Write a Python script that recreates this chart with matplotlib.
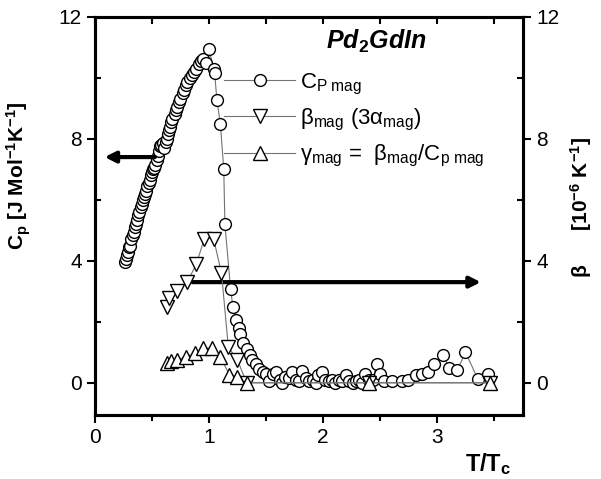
import numpy as np
import matplotlib.pyplot as plt
from matplotlib.ticker import MultipleLocator

plt.rcParams['font.family'] = ['Liberation Sans', 'DejaVu Sans']
plt.rcParams['mathtext.fontset'] = 'custom'
plt.rcParams['mathtext.rm'] = 'Liberation Sans'
plt.rcParams['mathtext.it'] = 'Liberation Sans:italic'
plt.rcParams['mathtext.bf'] = 'Liberation Sans:bold'

# C_p mag (left axis)
cp_t = [0.26, 0.27, 0.28, 0.29, 0.30, 0.31, 0.32, 0.33, 0.34, 0.35, 0.36, 0.37, 0.38, 0.39,
        0.40, 0.41, 0.42, 0.43, 0.44, 0.45, 0.46, 0.47, 0.48, 0.49, 0.50, 0.51, 0.52, 0.53,
        0.54, 0.55, 0.56, 0.57, 0.58, 0.60, 0.61, 0.62, 0.63, 0.64, 0.65, 0.66, 0.67, 0.68,
        0.70, 0.71, 0.72, 0.74, 0.75, 0.77, 0.78, 0.80, 0.81, 0.83, 0.85, 0.87, 0.89, 0.91,
        0.93, 0.95, 0.97, 1.00, 1.04, 1.05, 1.07, 1.10, 1.13, 1.14, 1.19, 1.21, 1.24, 1.26,
        1.27, 1.30, 1.33, 1.36, 1.38, 1.41, 1.44, 1.47, 1.50, 1.53, 1.56, 1.59, 1.62, 1.64,
        1.67, 1.70, 1.73, 1.76, 1.79, 1.82, 1.85, 1.88, 1.91, 1.94, 1.96, 1.99, 2.02, 2.05,
        2.08, 2.11, 2.14, 2.17, 2.20, 2.23, 2.26, 2.29, 2.32, 2.34, 2.37, 2.40, 2.44, 2.47,
        2.50, 2.54, 2.61, 2.69, 2.75, 2.82, 2.87, 2.92, 2.97, 3.05, 3.11, 3.18, 3.25, 3.36,
        3.45]
cp_val = [3.95, 4.05, 4.2, 4.3, 4.45, 4.5, 4.7, 4.85, 4.95, 5.1, 5.2, 5.35, 5.5, 5.6,
          5.75, 5.85, 6.0, 6.1, 6.2, 6.3, 6.45, 6.55, 6.65, 6.8, 6.9, 7.0, 7.05, 7.15,
          7.3, 7.45, 7.6, 7.75, 7.8, 7.85, 7.7, 7.9, 8.0, 8.15, 8.3, 8.4, 8.55, 8.65,
          8.8, 8.95, 9.05, 9.2, 9.3, 9.5, 9.6, 9.75, 9.85, 10.0, 10.1, 10.2, 10.3, 10.45,
          10.55, 10.6, 10.5, 10.95, 10.3, 10.15, 9.26, 8.5, 7.0, 5.2, 3.07, 2.5, 2.05, 1.8,
          1.6, 1.3, 1.1, 0.9, 0.75, 0.6, 0.45, 0.35, 0.3, 0.05, 0.3, 0.35, 0.1, 0.0,
          0.2, 0.15, 0.35, 0.1, 0.05, 0.4, 0.15, 0.05, 0.1, 0.0, 0.25, 0.35, 0.1, 0.05,
          0.1, 0.0, 0.1, 0.05, 0.25, 0.05, 0.0, 0.05, 0.1, 0.0, 0.3, 0.1, 0.1, 0.6,
          0.3, 0.05, 0.05, 0.05, 0.1, 0.25, 0.3, 0.35, 0.6, 0.9, 0.5, 0.42, 1.0, 0.12,
          0.28]

# beta mag (right axis, 1e-6 K^-1)
beta_t = [0.63, 0.65, 0.72, 0.81, 0.89, 0.96, 1.04, 1.11, 1.17, 1.25, 1.33, 2.40, 3.47]
beta_val = [2.5, 2.78, 3.0, 3.3, 3.9, 4.73, 4.73, 3.6, 1.17, 0.75, 0.0, 0.0, 0.0]

# gamma mag
gamma_t = [0.63, 0.67, 0.72, 0.80, 0.88, 0.95, 1.03, 1.10, 1.18, 1.25, 1.33, 2.40, 3.47]
gamma_val = [0.65, 0.7, 0.75, 0.85, 0.98, 1.14, 1.14, 0.85, 0.26, 0.2, 0.0, 0.0, 0.0]

fig = plt.figure(figsize=(6.01, 4.79), dpi=100)
ax = fig.add_axes([0.158, 0.134, 0.712, 0.831])
ax2 = ax.twinx()

mk = dict(mfc='white', mec='black', mew=1.0, color='0.45', lw=0.8)
l1, = ax.plot(cp_t, cp_val, 'o', ls='-', ms=8.5, label=r'C$_{\mathrm{P\ mag}}$', **mk)
l2, = ax2.plot(beta_t, beta_val, 'v', ls='-', ms=9.5,
               label=r'β$_{\mathrm{mag}}$ (3α$_{\mathrm{mag}}$)', **mk)
l3, = ax2.plot(gamma_t, gamma_val, '^', ls='-', ms=9.5,
               label=r'γ$_{\mathrm{mag}}$ =  β$_{\mathrm{mag}}$/C$_{\mathrm{p\ mag}}$', **mk)

for a in (ax, ax2):
    a.set_xlim(0, 3.754)
    a.set_ylim(-1.05, 12)
    a.yaxis.set_major_locator(MultipleLocator(4))
    a.yaxis.set_minor_locator(MultipleLocator(2))
    for s in a.spines.values():
        s.set_linewidth(2.2)

ax.xaxis.set_major_locator(MultipleLocator(1))
ax.xaxis.set_minor_locator(MultipleLocator(0.5))
ax.tick_params(axis='x', which='major', direction='out', length=6, width=1.5, labelsize=15)
ax.tick_params(axis='x', which='minor', direction='out', length=4, width=1.5)
ax.tick_params(axis='y', which='major', direction='out', length=6, width=1.5, labelsize=15)
ax.tick_params(axis='y', which='minor', direction='in', length=4, width=1.5)
ax2.tick_params(axis='y', which='major', direction='out', length=6, width=1.5, labelsize=15)
ax2.tick_params(axis='y', which='minor', direction='in', length=4, width=1.5)

top = ax.secondary_xaxis('top')
top.xaxis.set_major_locator(MultipleLocator(0.5))
top.tick_params(direction='in', length=5, width=1.5, labeltop=False)

# arrows pointing to the axes
ax.annotate('', xy=(0.06, 7.4), xytext=(0.55, 7.4),
            arrowprops=dict(arrowstyle='-|>', lw=3, color='black', mutation_scale=16))
ax.annotate('', xy=(3.41, 3.3), xytext=(0.83, 3.3),
            arrowprops=dict(arrowstyle='-|>', lw=3, color='black', mutation_scale=16))

ax.text(2.03, 11.2, r'Pd$_{\mathbf{2}}$GdIn', fontsize=18, fontweight='bold',
        style='italic', ha='left', va='center')

ax.legend(handles=[l1, l2, l3], loc='upper left', bbox_to_anchor=(0.276, 0.89),
          frameon=False, fontsize=16, handlelength=3.2, handletextpad=0.2,
          labelspacing=0.45, borderpad=0)

ax.set_xlabel(r'T/T$_{\mathbf{c}}$', fontsize=17, fontweight='bold')
ax.xaxis.set_label_coords(0.92, -0.09)
ax.set_ylabel(r'C$_{\mathbf{p}}$ [J Mol$^{\mathbf{-1}}$K$^{\mathbf{-1}}$]',
              fontsize=15, fontweight='bold')
ax.yaxis.set_label_coords(-0.145, 0.6)
ax2.set_ylabel(r'β      [10$^{\mathbf{-6}}$ K$^{\mathbf{-1}}$]', fontsize=15, fontweight='bold')
ax2.yaxis.set_label_coords(1.105, 0.52)

fig.savefig('out.png', dpi=100)
